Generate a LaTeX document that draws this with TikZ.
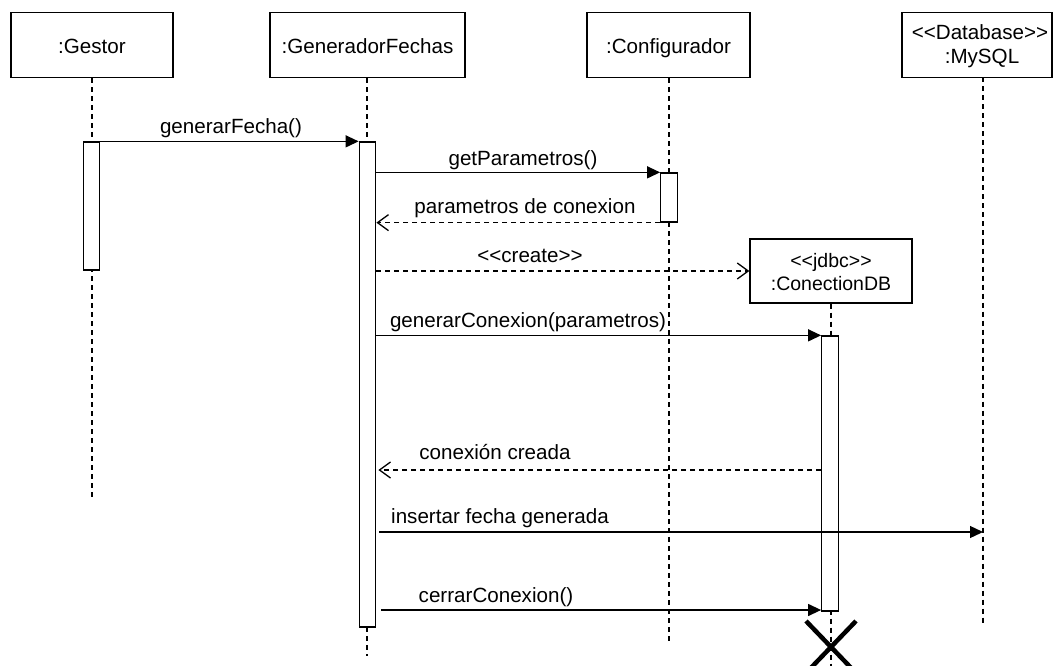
\documentclass[tikz,border=0pt]{standalone}
\usepackage{fontspec}
\newfontfamily\lsans{Liberation Sans}
\usetikzlibrary{arrows.meta}
\begin{document}
\begin{tikzpicture}[x=1pt,y=-1pt,
  txt/.style={font=\lsans\fontsize{20.6}{24}\selectfont, inner sep=0pt, anchor=base},
  stxt/.style={font=\lsans\fontsize{19.5}{23}\selectfont, inner sep=0pt, anchor=base},
  obj/.style={draw, line width=1.3pt, inner sep=0pt, minimum width=162pt, minimum height=65pt},
  life/.style={line width=1.2pt, dash pattern=on 5pt off 4pt},
  act/.style={draw, fill=white, line width=1.3pt, inner sep=0pt, minimum width=16.5pt},
  msg/.style={line width=1.3pt, -{Triangle[length=13pt,width=12pt]}},
  ret/.style={line width=1.2pt, dash pattern=on 5pt off 4pt, -{Straight Barb[length=11pt,width=16pt,line width=1.3pt]}},
  kill/.style={line width=4.5pt}
]
\useasboundingbox (0,0) rectangle (1053,666);

% object boxes
\node[obj] (gestor) at (92,45) {};
\node[txt] (gestorT) at (92,54) {:Gestor};
\node[obj, minimum width=195pt] (gen) at (367.5,45) {};
\node[txt] (genT) at (367.5,54) {:GeneradorFechas};
\node[obj, minimum width=163pt] (conf) at (668.5,45) {};
\node[txt] (confT) at (668.5,54) {:Configurador};
\node[obj, minimum width=150pt] (mysql) at (977,45) {};
\node[txt] (mysqlT1) at (980,40) {<<Database>>};
\node[txt] (mysqlT2) at (982,64) {:MySQL};

% lifeline ends
\coordinate (gestorEnd) at (92,500);
\coordinate (genEnd) at (367,656);
\coordinate (confEnd) at (669,643);
\coordinate (mysqlTop) at (983,77.5);
\coordinate (mysqlEnd) at (983,626);

% lifelines
\draw[life] (gestor.south) -- (gestorEnd);
\draw[life] (gen.south -| genEnd) -- (genEnd);
\draw[life] (conf.south -| confEnd) -- (confEnd);
\draw[life] (mysqlTop) -- (mysqlEnd);

% created object
\node[obj, minimum height=64pt] (cdb) at (831,271) {};
\node[stxt] (cdbT1) at (831,267) {<<jdbc>>};
\node[stxt] (cdbT2) at (831,290) {:ConectionDB};
\coordinate (cdbEnd) at (831,672);
\draw[life] (cdb.south) -- (cdbEnd);

% activations
\node[act, minimum height=128pt] (ga) at (91.5,206) {};
\node[act, minimum height=485pt] (fa) at (367.5,384.5) {};
\node[act, minimum height=49pt] (ca) at (669,197.5) {};
\node[act, minimum height=275pt] (da) at (830,473.5) {};

% message rows
\coordinate (y6) at (0,470);
\coordinate (y7) at (0,532);
\coordinate (y8) at (0,610);

% messages
\draw[msg] (ga.north east) -- (fa.north west);
\node[txt] (m1) at (231,134) {generarFecha()};

\draw[msg] (fa.east |- ca.north) -- (ca.north west);
\node[txt] (m2) at (523,166) {getParametros()};

\draw[ret] (ca.south west) -- (fa.east |- ca.south);
\node[txt] (m3) at (525,214) {parametros de conexion};

\draw[ret] (fa.east |- cdb.west) -- (cdb.west);
\node[txt] (m4) at (530,262) {<<create>>};

\draw[msg] (fa.east |- da.north) -- (da.north west);
\node[txt] (m5) at (528,327) {generarConexion(parametros)};

\draw[ret] (da.west |- y6) -- ([xshift=2pt]fa.east |- y6);
\node[txt] (m6) at (495,459) {conexión creada};

\draw[msg] ([xshift=3pt]fa.east |- y7) -- (mysqlEnd |- y7);
\node[txt] (m7) at (500,523) {insertar fecha generada};

\draw[msg] ([xshift=5pt]fa.east |- y8) -- (da.west |- y8);
\node[txt] (m8) at (496,602) {cerrarConexion()};

% destruction mark
\coordinate (xc) at (831,647);
\draw[kill] ([shift={(-25,-26)}]xc) -- ([shift={(25,26)}]xc);
\draw[kill] ([shift={(-25,26)}]xc) -- ([shift={(25,-26)}]xc);
\end{tikzpicture}
\end{document}
